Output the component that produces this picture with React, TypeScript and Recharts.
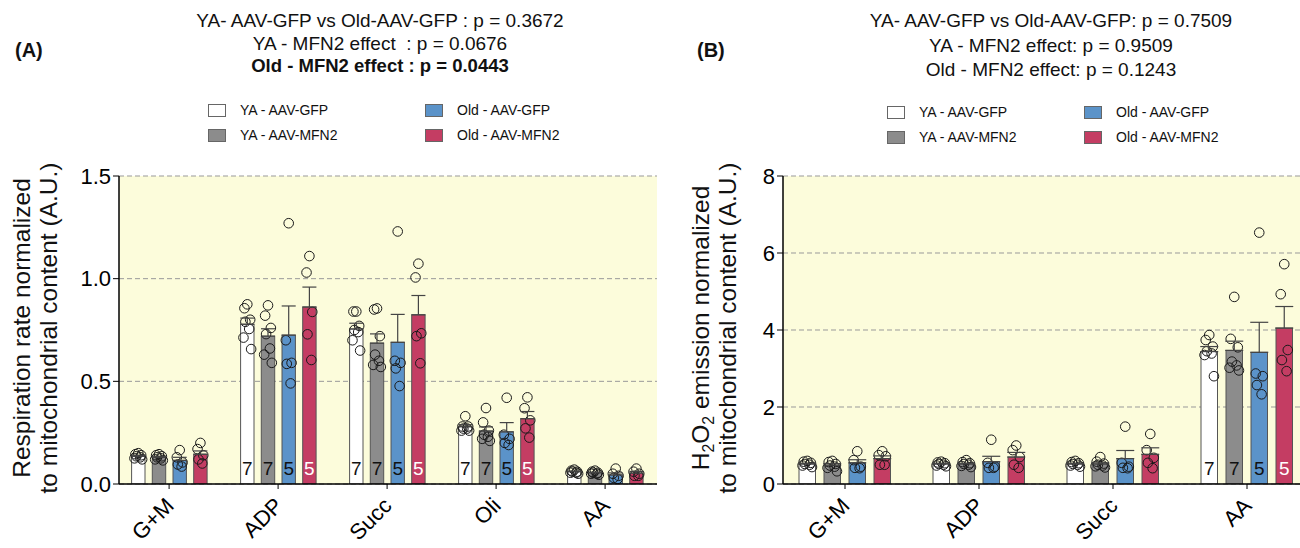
import React from 'react'
import { ComposedChart, Bar, XAxis, YAxis, CartesianGrid, ErrorBar, LabelList } from 'recharts'

const FONT = '"Liberation Sans", Arial, Helvetica, sans-serif'

const seriesNames = ['YA - AAV-GFP', 'YA - AAV-MFN2', 'Old - AAV-GFP', 'Old - AAV-MFN2']
const seriesKeys = ['yaGfp', 'yaMfn2', 'oldGfp', 'oldMfn2']
const seriesColors = ['#ffffff', '#8c8c8c', '#5b93c9', '#c43d63']
const nColors = ['#111111', '#111111', '#111111', '#ffffff']
const sampleSizes = [7, 7, 5, 5]

// (A) respiration rate
const groupsA = ['G+M', 'ADP', 'Succ', 'Oli', 'AA']
const nShownA = ['ADP', 'Succ', 'Oli']
const meanA = [
  [0.135, 0.778, 0.755, 0.279, 0.06],
  [0.13, 0.72, 0.686, 0.258, 0.055],
  [0.115, 0.725, 0.69, 0.254, 0.044],
  [0.145, 0.862, 0.824, 0.318, 0.053],
]
const errA = [
  [0.005, 0.03, 0.028, 0.01, 0.003],
  [0.005, 0.036, 0.045, 0.02, 0.003],
  [0.015, 0.142, 0.136, 0.045, 0.01],
  [0.016, 0.097, 0.094, 0.035, 0.008],
]
const ptsA = [
  [
    [0.15, 0.145, 0.14, 0.135, 0.13, 0.125, 0.12],
    [0.875, 0.856, 0.8, 0.79, 0.755, 0.713, 0.657],
    [0.84, 0.84, 0.77, 0.75, 0.74, 0.7, 0.65],
    [0.33, 0.28, 0.28, 0.27, 0.27, 0.26, 0.26],
    [0.07, 0.065, 0.06, 0.06, 0.055, 0.055, 0.05],
  ],
  [
    [0.145, 0.14, 0.135, 0.13, 0.125, 0.12, 0.115],
    [0.87, 0.82, 0.76, 0.73, 0.66, 0.63, 0.59],
    [0.855, 0.85, 0.72, 0.63, 0.6, 0.58, 0.57],
    [0.37, 0.3, 0.26, 0.24, 0.23, 0.22, 0.21],
    [0.065, 0.06, 0.055, 0.055, 0.05, 0.05, 0.045],
  ],
  [
    [0.165, 0.13, 0.105, 0.095, 0.085],
    [1.27, 0.7, 0.59, 0.585, 0.49],
    [1.23, 0.6, 0.59, 0.563, 0.477],
    [0.42, 0.24, 0.22, 0.2, 0.19],
    [0.075, 0.05, 0.04, 0.03, 0.025],
  ],
  [
    [0.2, 0.17, 0.14, 0.12, 0.1],
    [1.11, 1.03, 0.838, 0.729, 0.604],
    [1.073, 1.006, 0.734, 0.72, 0.588],
    [0.422, 0.369, 0.31, 0.271, 0.226],
    [0.075, 0.06, 0.05, 0.04, 0.04],
  ],
]
const ticksA = [0, 0.5, 1, 1.5]

// (B) H2O2 emission
const groupsB = ['G+M', 'ADP', 'Succ', 'AA']
const nShownB = ['AA']
const meanB = [
  [0.52, 0.52, 0.52, 3.44],
  [0.49, 0.52, 0.52, 3.47],
  [0.55, 0.58, 0.66, 3.42],
  [0.66, 0.7, 0.77, 4.05],
]
const errB = [
  [0.02, 0.02, 0.02, 0.13],
  [0.04, 0.02, 0.03, 0.24],
  [0.08, 0.14, 0.21, 0.78],
  [0.07, 0.12, 0.17, 0.56],
]
const ptsB = [
  [
    [0.6, 0.58, 0.55, 0.52, 0.5, 0.48, 0.44],
    [0.58, 0.56, 0.54, 0.52, 0.5, 0.48, 0.46],
    [0.6, 0.57, 0.54, 0.52, 0.5, 0.48, 0.45],
    [3.87, 3.74, 3.57, 3.45, 3.39, 3.35, 2.8],
  ],
  [
    [0.6, 0.57, 0.52, 0.48, 0.45, 0.42, 0.33],
    [0.62, 0.57, 0.54, 0.52, 0.5, 0.47, 0.44],
    [0.7, 0.58, 0.53, 0.5, 0.48, 0.46, 0.43],
    [4.86, 3.77, 3.55, 3.18, 3.08, 3.02, 2.95],
  ],
  [
    [0.85, 0.62, 0.45, 0.42, 0.41],
    [1.15, 0.55, 0.45, 0.42, 0.42],
    [1.49, 0.55, 0.45, 0.42, 0.41],
    [6.53, 2.87, 2.8, 2.57, 2.33],
  ],
  [
    [0.85, 0.75, 0.72, 0.5, 0.5],
    [1.0, 0.88, 0.7, 0.5, 0.42],
    [1.3, 0.88, 0.68, 0.55, 0.41],
    [5.71, 4.93, 3.48, 3.22, 2.93],
  ],
]
const ticksB = [0, 2, 4, 6, 8]

const buildRows = (groups: string[], means: number[][], errs: number[][], pts: number[][][], nShown: string[]) =>
  groups.map((g, i) => {
    const row: any = { group: g }
    seriesKeys.forEach((k, s) => {
      row[k] = means[s][i]
      row[k + 'Err'] = [0, errs[s][i]]
      row[k + 'Pts'] = pts[s][i]
      row[k + 'N'] = nShown.includes(g) ? sampleSizes[s] : null
    })
    return row
  })

const rowsA = buildRows(groupsA, meanA, errA, ptsA, nShownA)
const rowsB = buildRows(groupsB, meanB, errB, ptsB, nShownB)

const jitter = [0, -3, 3, -2, 2, -4, 4]

// bar rect + individual points (placed with the bar's own value->pixel ratio)
const barWithDots = (key: string) => (props: any) => {
  const { x, y, width, height, payload, fill } = props
  const mean = payload[key]
  const pts: number[] = payload[key + 'Pts']
  const base = y + height
  const k = mean ? height / mean : 0
  const cx = x + width / 2
  return (
    <g>
      <rect x={x} y={y} width={width} height={height} fill={fill} stroke="#555" strokeWidth={1} />
      {pts.map((p, j) => (
        <circle key={j} cx={cx + jitter[j % jitter.length] * (width / 14)} cy={base - p * k} r={4.8}
          fill="none" stroke="#1a1a1a" strokeWidth={1} />
      ))}
    </g>
  )
}

const nLabel = (color: string) => (props: any) => {
  const vb = props.viewBox ?? props
  if (props.value == null) return null
  return (
    <text x={vb.x + vb.width / 2} y={vb.y + vb.height - 9} textAnchor="middle" fontSize={19}
      fontFamily={FONT} fill={color}>{props.value}</text>
  )
}

const AngleTick = (props: any) => {
  const { x, y, payload } = props
  return (
    <g transform={`translate(${x + 6},${y + 16}) rotate(-45)`}>
      <text textAnchor="end" fontSize={22} fontFamily={FONT} fill="#000">{payload.value}</text>
    </g>
  )
}

type PanelProps = {
  rows: any[]
  ticks: number[]
  fmt: (v: number) => string
  margin: { top: number; right: number; bottom: number; left: number }
  padding: { left: number; right: number }
  barSize: number
  barGap: number
  cap: number
}

const Panel = ({ rows, ticks, fmt, margin, padding, barSize, barGap, cap }: PanelProps) => (
  <ComposedChart width={660} height={548} data={rows} margin={margin} barSize={barSize} barGap={barGap}>
    <CartesianGrid vertical={false} stroke="#999" strokeDasharray="5 3" fill="#fcfcdb" />
    <XAxis dataKey="group" type="category" padding={padding} height={64} interval={0}
      axisLine={{ stroke: '#000', strokeWidth: 1.5 }} tickLine={{ stroke: '#000' }} tickSize={5}
      tick={<AngleTick />} />
    <YAxis width={60} domain={[ticks[0], ticks[ticks.length - 1]]} ticks={ticks} tickFormatter={fmt}
      axisLine={{ stroke: '#000', strokeWidth: 1.5 }} tickLine={{ stroke: '#000' }} tickSize={6}
      tick={{ fontSize: 22, fill: '#000', fontFamily: FONT }} allowDataOverflow />
    {seriesKeys.map((k, s) => (
      <Bar key={k} dataKey={k} name={seriesNames[s]} fill={seriesColors[s]} isAnimationActive={false}
        shape={barWithDots(k)}>
        <ErrorBar dataKey={k + 'Err'} width={cap} stroke="#444" strokeWidth={1.2} direction="y" />
        <LabelList dataKey={k + 'N'} content={nLabel(nColors[s])} />
      </Bar>
    ))}
  </ComposedChart>
)

const LegendBox = ({ left, top, colGap }: { left: number; top: number; colGap: number }) => (
  <div style={{ position: 'absolute', left, top, fontFamily: FONT, fontSize: 14, color: '#111' }}>
    {seriesNames.map((n, s) => {
      const col = s < 2 ? 0 : 1
      const row = s % 2
      return (
        <div key={n} style={{ position: 'absolute', left: col * colGap, top: row * 25, whiteSpace: 'nowrap',
          display: 'flex', alignItems: 'center', height: 16 }}>
          <span style={{ display: 'inline-block', width: 16, height: 11, background: seriesColors[s],
            border: '1px solid #666', marginRight: 14 }} />
          {n}
        </div>
      )
    })}
  </div>
)

const titleLine = (text: string, bold = false) => (
  <div style={{ fontWeight: bold ? 700 : 400, fontSize: bold ? 18.5 : 19 }}>{text}</div>
)

export default function App() {
  return (
    <div style={{ position: 'absolute', left: 0, top: 0, width: 1300, height: 548, overflow: 'hidden',
      background: '#fff', fontFamily: FONT, color: '#111' }}>
      {/* panel A */}
      <div style={{ position: 'absolute', left: 0, top: 0 }}>
        <Panel rows={rowsA} ticks={ticksA} fmt={(v) => v.toFixed(1)}
          margin={{ top: 176, right: 3, bottom: 0, left: 59 }} padding={{ left: -4.4, right: -2.6 }}
          barSize={13.4} barGap={7.3} cap={7} />
      </div>
      <div style={{ position: 'absolute', left: 180, top: 10, width: 400, textAlign: 'center',
        lineHeight: '22.5px' }}>
        {titleLine('YA- AAV-GFP vs Old-AAV-GFP : p = 0.3672')}
        {titleLine('YA - MFN2 effect\u00a0 : p = 0.0676')}
        {titleLine('Old - MFN2 effect : p = 0.0443', true)}
      </div>
      <div style={{ position: 'absolute', left: 15, top: 39, fontSize: 20, fontWeight: 700 }}>(A)</div>
      <LegendBox left={208} top={102} colGap={217} />
      <div style={{ position: 'absolute', left: 35 - 180, top: 328 - 27, width: 360, height: 54,
        transform: 'rotate(-90deg)', textAlign: 'center', fontSize: 24.5, lineHeight: '27px', whiteSpace: 'nowrap' }}>
        <div>Respiration rate normalized</div>
        <div>to mitochondrial content (A.U.)</div>
      </div>

      {/* panel B */}
      <div style={{ position: 'absolute', left: 660, top: 0 }}>
        <Panel rows={rowsB} ticks={ticksB} fmt={(v) => String(v)}
          margin={{ top: 176, right: 6, bottom: 0, left: 63 }} padding={{ left: -5, right: 0 }}
          barSize={16.5} barGap={8.5} cap={9} />
      </div>
      <div style={{ position: 'absolute', left: 851, top: 9, width: 400, textAlign: 'center',
        lineHeight: '24.5px' }}>
        {titleLine('YA- AAV-GFP vs Old-AAV-GFP: p = 0.7509')}
        {titleLine('YA - MFN2 effect: p = 0.9509')}
        {titleLine('Old - MFN2 effect: p = 0.1243')}
      </div>
      <div style={{ position: 'absolute', left: 697, top: 39, fontSize: 20, fontWeight: 700 }}>(B)</div>
      <LegendBox left={887} top={104} colGap={197} />
      <div style={{ position: 'absolute', left: 714 - 180, top: 328 - 27, width: 360, height: 54,
        transform: 'rotate(-90deg)', textAlign: 'center', fontSize: 24.5, lineHeight: '27px', whiteSpace: 'nowrap' }}>
        <div>H<sub style={{ fontSize: '0.65em', verticalAlign: '-0.3em', lineHeight: 0 }}>2</sub>O
          <sub style={{ fontSize: '0.65em', verticalAlign: '-0.3em', lineHeight: 0 }}>2</sub> emission normalized</div>
        <div>to mitochondrial content (A.U.)</div>
      </div>
    </div>
  )
}
